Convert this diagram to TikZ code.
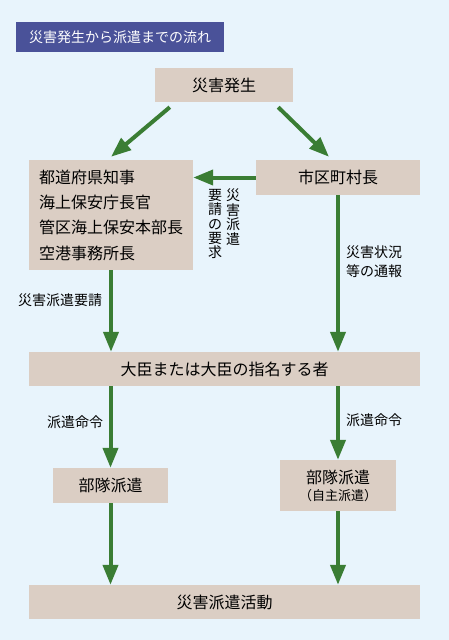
\documentclass[tikz,border=0pt]{standalone}
\usepackage{fontspec}
\setmainfont{Noto Sans CJK JP}
\usepackage{tikz}
\usetikzlibrary{
    arrows.meta,
    positioning,
    calc
}
\definecolor{BgBlue}{RGB}{232,244,252}
\definecolor{TitleBlue}{RGB}{74,82,153}
\definecolor{BoxTan}{RGB}{219,206,196}
\definecolor{ArrGreen}{RGB}{58,125,52}
\tikzset{
  box/.style   = {fill=BoxTan, inner sep=0pt, align=center,
                  font=\fontsize{16}{18}\selectfont},
  lbl/.style   = {inner sep=0pt, align=left, font=\fontsize{14}{19}\selectfont},
  arr/.style   = {-{Triangle[width=15pt,length=20pt]}, line width=4pt, ArrGreen}
}
\begin{document}
\begin{tikzpicture}[
    x=1pt, y=-1pt,
    vcol/.style={inner sep=0pt, anchor=north, align=center,
                 font=\fontsize{14}{14.4}\selectfont}
]
\fill[BgBlue] (0,0) rectangle (449,640);
\useasboundingbox (0,0) rectangle (449,640);

\node[fill=TitleBlue, text=white, minimum width=208pt, minimum height=30pt,
      inner sep=0pt, font=\fontsize{14}{16}\selectfont] (title) at (120,37)
      {災害発生から派遣までの流れ};

\node[box, minimum width=138pt, minimum height=34pt] (hassei) at (224,85) {災害発生};
\node[box, minimum width=164pt, minimum height=110pt, align=left,
      font=\fontsize{16}{25.3}\selectfont] (chiji) at (111,215)
      {都道府県知事\\海上保安庁長官\\管区海上保安本部長\\空港事務所長};
\node[box, minimum width=164pt, minimum height=35pt] (shicho) at (338,177.5) {市区町村長};
\node[box, minimum width=391pt, minimum height=34pt] (daijin) at (224.5,369)
      {大臣または大臣の指名する者};
\node[box, minimum width=115pt, minimum height=35pt] (butai) at (110.5,485.5) {部隊派遣};
\node[box, minimum width=116pt, minimum height=51pt, font=\fontsize{16}{17}\selectfont]
      (jishu) at (338,485.5) {部隊派遣\\{\fontsize{13}{15}\selectfont（自主派遣）}};
\node[box, minimum width=391pt, minimum height=34pt] (katsudo) at (224.5,602) {災害派遣活動};

\node[vcol] (yosei1) at (233,189) {災\\害\\派\\遣};
\node[vcol] (yosei2) at (215,189) {要\\請\\の\\要\\求};
\node[lbl] (tsuho) at (374,262) {災害状況\\等の通報};
\node[lbl] (yosei) at (60,300) {災害派遣要請};
\node[lbl] (meirei1) at (75,422) {派遣命令};
\node[lbl] (meirei2) at (374,420) {派遣命令};

\draw[arr] ([shift={(15,5)}]hassei.south west) -- ([shift={(0,-3)}]chiji.north);
\draw[arr] ([shift={(-15,5)}]hassei.south east) -- ([shift={(-9,-3)}]shicho.north);
\draw[arr] (shicho.west) -- (shicho.west -| chiji.east);
\draw[arr] (chiji.south) -- (chiji.south |- daijin.north);
\draw[arr] (shicho.south) -- (shicho.south |- daijin.north);
\draw[arr] (daijin.south -| butai.north) -- (butai.north);
\draw[arr] (daijin.south -| jishu.north) -- (jishu.north);
\draw[arr] (butai.south) -- (butai.south |- katsudo.north);
\draw[arr] (jishu.south) -- (jishu.south |- katsudo.north);
\end{tikzpicture}
\end{document}
